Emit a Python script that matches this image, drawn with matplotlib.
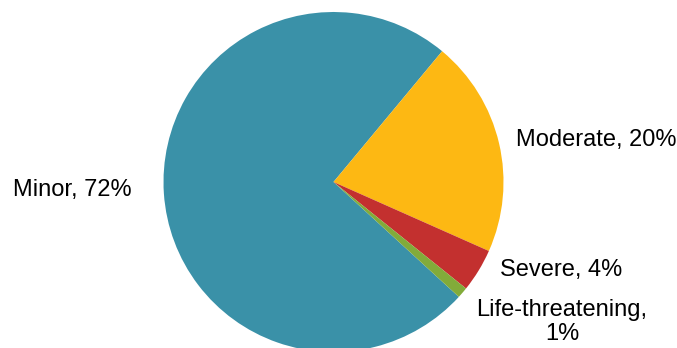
import matplotlib.pyplot as plt

plt.rcParams['font.family'] = ['Liberation Sans', 'DejaVu Sans']

# injury severity shares (percent)
categories = ['Minor', 'Moderate', 'Severe', 'Life-threatening']
shares = [72, 20, 4, 1]
colors = ['#3A91A8', '#FDB813', '#C3302F', '#82AB3A']

W, H = 677, 348
cx, cy, r = 333.5, 182.0, 170.0   # pie centre and radius in pixels

fig = plt.figure(figsize=(W / 100, H / 100), dpi=100)
ax = fig.add_axes([0, 0, 1, 1])

ax.pie(shares, colors=colors, startangle=-42.5, counterclock=False,
       radius=1, center=(0, 0), frame=False,
       wedgeprops=dict(linewidth=0))

ax.set_xlim(-cx / r, (W - cx) / r)
ax.set_ylim((cy - H) / r, cy / r)
ax.set_aspect('auto')
ax.axis('off')

# label anchor points (pixel coords from top-left)
label_pos = [(72, 190), (596, 140), (561, 270), (562, 322)]
label_text = [
    'Minor, %d%%' % shares[0],
    'Moderate, %d%%' % shares[1],
    'Severe, %d%%' % shares[2],
    'Life-threatening,\n%d%%' % shares[3],
]
for (px, py), txt in zip(label_pos, label_text):
    ax.text((px - cx) / r, (cy - py) / r, txt, ha='center', va='center',
            fontsize=17, color='black', linespacing=1.15)

fig.savefig('out.png', dpi=100)
